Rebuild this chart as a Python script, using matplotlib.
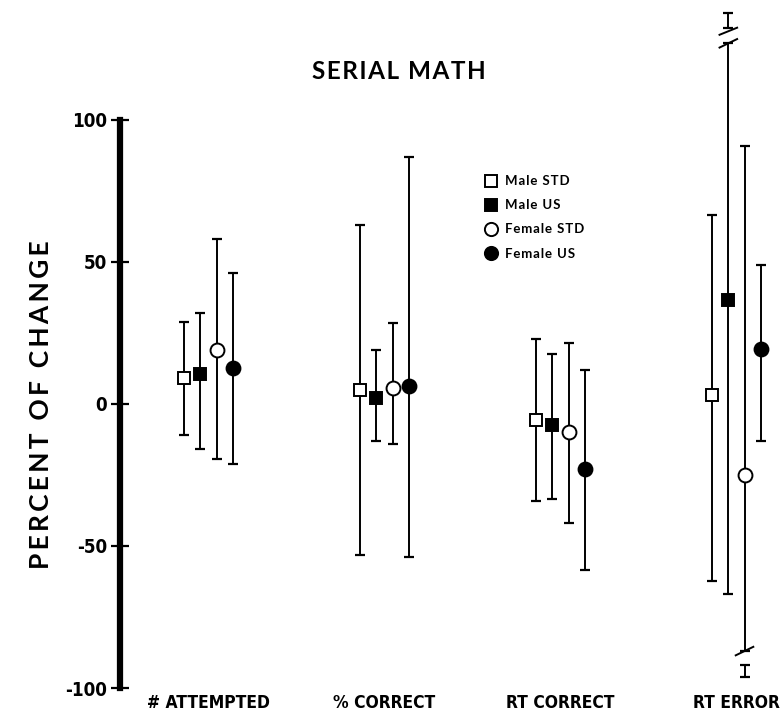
import numpy as np
import matplotlib
matplotlib.use("Agg")
import matplotlib.pyplot as plt
from matplotlib.lines import Line2D

# categories and tick labels
categories = ["# ATTEMPTED", "% CORRECT", "RT CORRECT", "RT ERROR"]
yticks = [-100, -50, 0, 50, 100]
ytick_labels = ["-100", "-50", "0", "50", "100"]

# means and error bar ends (percent of change)
male_std_mean = [9, 5, -5.5, 3]
male_std_hi = [29, 63, 23, 66.5]
male_std_lo = [-11, -53, -34, -62.5]

male_us_mean = [10.5, 2, -7.5, 36.5]
male_us_hi = [32, 19, 17.5, 127]     # RT ERROR bar is broken at the top
male_us_lo = [-16, -13, -33.5, -67]

female_std_mean = [19, 5.5, -10, -25]
female_std_hi = [58, 28.5, 21.5, 91]
female_std_lo = [-19.5, -14, -42, -87]  # RT ERROR bar is broken at the bottom

female_us_mean = [12.5, 6.5, -23, 19.5]
female_us_hi = [46, 87, 12, 49]
female_us_lo = [-21, -54, -58.5, -13]

series = [
    ("Male STD", male_std_mean, male_std_hi, male_std_lo, "s", "white", 8.5),
    ("Male US", male_us_mean, male_us_hi, male_us_lo, "s", "black", 8.5),
    ("Female STD", female_std_mean, female_std_hi, female_std_lo, "o", "white", 10),
    ("Female US", female_us_mean, female_us_hi, female_us_lo, "o", "black", 10),
]

geo = ["Lato", "DejaVu Sans"]
narrow = ["DejaVu Sans"]


def spaced(s, gap="\u200a"):
    return gap.join(s)


fig = plt.figure(figsize=(7.82, 7.16), dpi=100)
ax = fig.add_axes([0, 28 / 716, 1, 688 / 716])
ax.set_xlim(-1.185, 3.259)
ax.set_ylim(-100, 142.25)

x = np.arange(len(categories))
step = 0.092
offsets = [-1.5 * step, -0.5 * step, 0.5 * step, 1.5 * step]

handles = []
for (name, mean, hi, lo, mk, fc, ms), off in zip(series, offsets):
    mean = np.array(mean, float)
    hi = np.array(hi, float)
    lo = np.array(lo, float)
    xs = x + off
    ax.errorbar(xs, mean, yerr=[mean - lo, hi - mean], fmt="none",
                ecolor="black", elinewidth=1.4, capsize=3.8, capthick=1.6, zorder=2)
    ax.plot(xs, mean, linestyle="none", marker=mk, markersize=ms,
            markerfacecolor=fc, markeredgecolor="black", markeredgewidth=1.4, zorder=3)
    handles.append(Line2D([], [], linestyle="none", marker=mk, markersize=ms * 0.95,
                          markerfacecolor=fc, markeredgecolor="black",
                          markeredgewidth=1.4, label=spaced(name)))

# break marks on the two off-scale bars of RT ERROR
xb = x[3] + offsets[1]
ax.plot([xb - 0.05, xb + 0.05], [male_us_hi[3] - 1.5, male_us_hi[3] + 1.5], color="black", lw=1.4)
ax.errorbar([xb], [male_us_hi[3] + 8], yerr=2.5, fmt="none", ecolor="black",
            elinewidth=1.4, capsize=3.8, capthick=1.6)
ax.plot([xb - 0.05, xb + 0.05], [male_us_hi[3] + 3, male_us_hi[3] + 5.5], color="black", lw=1.4)
xf = x[3] + offsets[2]
ax.plot([xf - 0.05, xf + 0.05], [female_std_lo[3] - 1.5, female_std_lo[3] + 1.5], color="black", lw=1.4)
ax.errorbar([xf], [female_std_lo[3] - 7], yerr=2, fmt="none", ecolor="black",
            elinewidth=1.4, capsize=3.8, capthick=1.6)

# axis styling: one thick left spine only
for s in ["top", "right", "bottom"]:
    ax.spines[s].set_visible(False)
ax.spines["left"].set_position(("data", -0.503))
ax.spines["left"].set_bounds(-100, 100)
ax.spines["left"].set_linewidth(4.5)
ax.set_yticks(yticks)
ax.set_yticklabels(ytick_labels, fontfamily=narrow, fontweight="bold",
                   fontstretch="condensed", fontsize=13.5)
ax.tick_params(axis="y", direction="inout", length=13, width=1.6, pad=3)
ax.set_xticks(x)
ax.set_xticklabels(categories, fontfamily=narrow, fontweight="bold",
                   fontstretch="condensed", fontsize=12.5)
ax.tick_params(axis="x", length=0, pad=4)

fig.text(0.51, 0.90, spaced("SERIAL MATH"), ha="center", va="center",
         fontfamily=geo, fontweight="bold", fontsize=17.5)
fig.text(0.052, 0.435, spaced("PERCENT OF CHANGE", "\u2009"), ha="center", va="center",
         rotation=90, fontfamily=geo, fontweight="bold", fontsize=19)

ax.legend(handles=handles, loc="upper left", bbox_to_anchor=(0.604, 0.772),
          bbox_transform=fig.transFigure,
          frameon=False, handletextpad=0.6, labelspacing=0.92, handlelength=1.0,
          prop={"family": geo, "weight": "bold", "size": 9.5})

fig.savefig("out.png", dpi=100, facecolor="white")
